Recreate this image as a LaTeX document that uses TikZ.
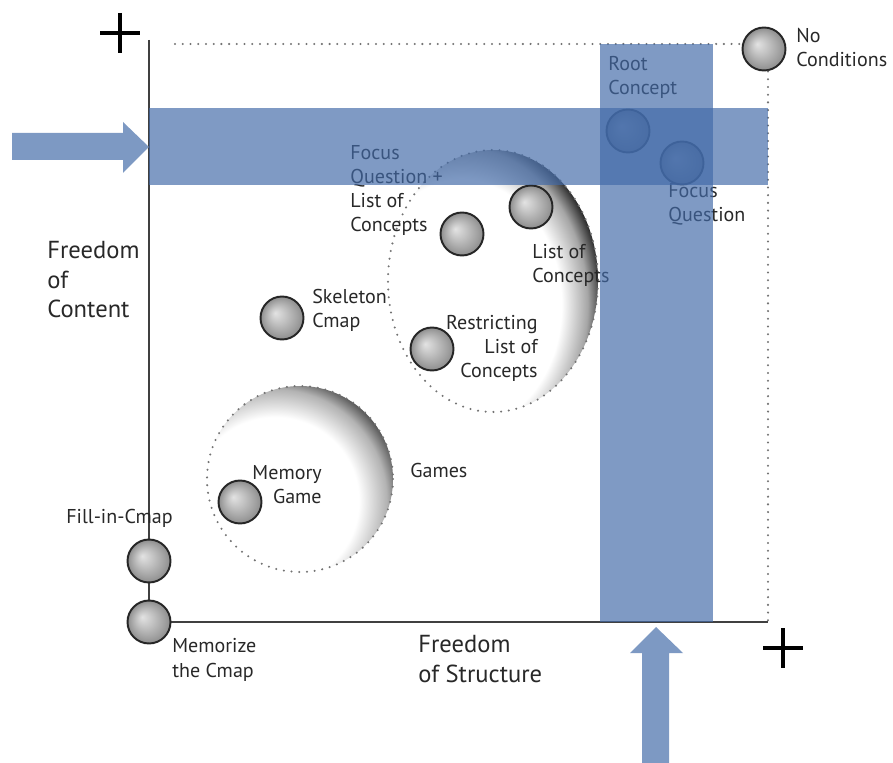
\documentclass[tikz,border=0pt]{standalone}
\usepackage{fontspec}
\setmainfont{PT Sans}
\usepackage{tikz}
\usetikzlibrary{arrows.meta}
\usetikzlibrary{shapes.geometric}
\usetikzlibrary{shadings}
\usepackage{xcolor}

\definecolor{bandblue}{RGB}{66,106,168}
\definecolor{arrowblue}{RGB}{125,153,195}
\definecolor{labgray}{RGB}{40,40,40}

\pgfdeclareradialshading{cmapball}{\pgfpoint{-8bp}{6bp}}{%
  color(0bp)=(gray!22); color(10bp)=(gray!48); color(20bp)=(gray!75); color(25bp)=(gray!90)}
\pgfdeclareradialshading{zonefade}{\pgfpointorigin}{%
  color(0bp)=(white); color(17.6bp)=(white); color(22.2bp)=(black!35); color(25bp)=(black!85); color(50bp)=(black!85)}
\pgfdeclareradialshading{gamefade}{\pgfpointorigin}{%
  color(0bp)=(white); color(16.5bp)=(white); color(22bp)=(black!30); color(25bp)=(black!68); color(50bp)=(black!68)}

\newcommand\labfont{\fontsize{11.4}{13.7}\selectfont}
\newcommand\axfont{\fontsize{14}{17}\selectfont}

\begin{document}
\begin{tikzpicture}[x=0.02cm,y=-0.02cm,
    cmap/.style={shape=circle,
      draw=black!85,
      line width=1.1pt,
      shading=cmapball,
      minimum size=0.86cm,
      inner sep=0pt},
    lab/.style={text=labgray, font=\labfont, inner sep=0pt, align=left},
    axlab/.style={text=labgray, font=\axfont, inner sep=0pt, align=left},
    axisline/.style={draw=black!75, line width=1.1pt},
    dots/.style={draw=black!55, line width=1.3pt, line cap=round, dash pattern=on 0pt off 4.4pt},
    plussign/.style={draw=black, line width=2.3pt},
    band/.style={fill=bandblue, fill opacity=0.68}]
  \useasboundingbox (0,0) rectangle (893,763);
  %\draw[help lines,step=50] (0,0) grid (893,763); % Only for Development

  % axes
  \coordinate (ytop) at (149,40);
  \coordinate (orig) at (149,622);
  \coordinate (xend) at (768,622);
  \coordinate (dtop) at (175,44);
  \draw[axisline] (ytop) -- (orig) -- (xend);

  % condition zones
  \begin{scope}
    \clip (493,281) ellipse [x radius=105, y radius=131];
    \shade[shading=zonefade] (461.5,304.6) ellipse [x radius=142, y radius=177];
  \end{scope}
  \draw[dots] (493,281) ellipse [x radius=105, y radius=131];
  \begin{scope}
    \clip (300,479) circle [radius=93];
    \shade[shading=gamefade] (275,501) circle [radius=127];
  \end{scope}
  \draw[dots] (300,479) circle [radius=93];

  % conditions
  \node[cmap] (noc) at (764,49) {};
  \node[cmap] (rootc) at (628,131) {};
  \node[cmap] (focusq) at (682,163) {};
  \node[cmap] (loc) at (531,207) {};
  \node[cmap] (fqloc) at (462,234) {};
  \node[cmap] (restr) at (432,349) {};
  \node[cmap] (skel) at (282,318) {};
  \node[cmap] (memg) at (240,502) {};
  \node[cmap] (fillin) at (149,561) {};
  \node[cmap] (memo) at (149,622) {};

  \draw[dots] (dtop) -- (dtop -| noc.west);
  \draw[dots] (noc.south -| xend) -- (xend);

  \node[lab, anchor=base west] (noc-lab) at (796,67) {No\\Conditions};
  \node[lab, anchor=base west] (rootc-lab) at (608,95) {Root\\Concept};
  \node[lab, anchor=base west] (focusq-lab) at (668,222) {Focus\\Question};
  \node[lab, anchor=base west] (fqloc-lab) at (350,232) {Focus\\Question +\\List of\\Concepts};
  \node[lab, anchor=base west] (loc-lab) at (532,283) {List of\\Concepts};
  \node[lab, anchor=base west] (skel-lab) at (312,328) {Skeleton\\Cmap};
  \node[lab, anchor=base east, align=right] (restr-lab) at (538,378) {Restricting\\List of\\Concepts};
  \node[lab, anchor=base east, align=right] (memg-lab) at (322,504) {Memory\\Game};
  \node[lab, anchor=base west] (games-lab) at (410,478) {Games};
  \node[lab, anchor=base west] (fillin-lab) at (66,523) {Fill-in-Cmap};
  \node[lab, anchor=base west] (memo-lab) at (172,677) {Memorize\\the Cmap};

  \node[axlab, anchor=base west] (content-lab) at (47,318) {Freedom\\of\\Content};
  \node[axlab, anchor=base west] (structure-lab) at (418,682) {Freedom\\of Structure};

  % restriction bands
  \fill[band] (149,108) rectangle (768,185);
  \fill[band] (600,44) rectangle (713,622);

  \fill[arrowblue] (12,133) -- (123,133) -- (123,122) -- (149,147) --
    (123,173) -- (123,160) -- (12,160) -- cycle;
  \fill[arrowblue] (642,763) -- (642,653) -- (630,653) -- (656,627) --
    (683,653) -- (669,653) -- (669,763) -- cycle;

  \draw[plussign] (120,13) -- (120,53) (100,33) -- (140,33);
  \draw[plussign] (783,628) -- (783,668) (763,648) -- (803,648);

\end{tikzpicture}
\end{document}
